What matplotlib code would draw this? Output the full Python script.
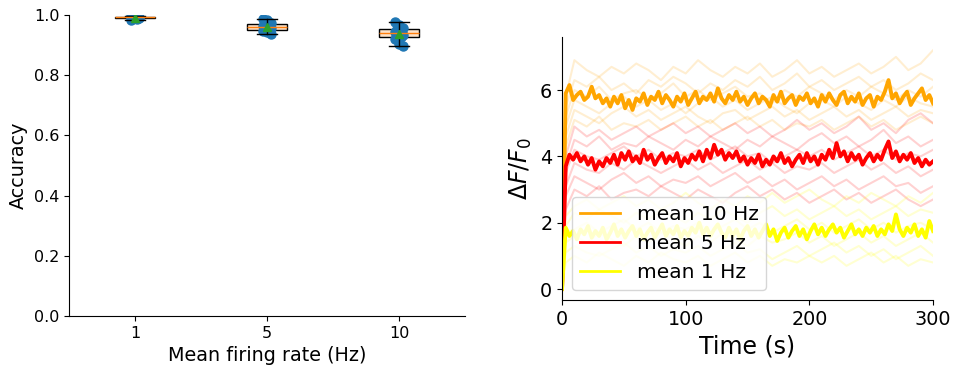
import matplotlib.pyplot as plt
import numpy as np

# accuracy per mean firing rate (left panel)
rates = ['1', '5', '10']
acc_1hz = [0.996, 0.995, 0.994, 0.993, 0.993, 0.992, 0.991, 0.990, 0.989, 0.986, 0.984]
acc_5hz = [0.988, 0.982, 0.975, 0.970, 0.966, 0.962, 0.960, 0.958, 0.955, 0.950, 0.947, 0.942, 0.937]
acc_10hz = [0.977, 0.968, 0.958, 0.955, 0.948, 0.942, 0.939, 0.935, 0.930, 0.927, 0.920, 0.905, 0.896]

# mean dF/F traces, one value every 3 s (right panel)
t_mean = list(range(0, 301, 3))
mean_10hz = [0.0, 5.9, 6.15, 5.7, 5.85, 5.95, 5.7, 5.8, 6.1, 5.75, 5.85, 5.6, 5.75, 5.5, 5.8, 5.6, 5.85,
             5.45, 5.7, 5.4, 5.75, 5.65, 5.9, 5.55, 5.8, 5.7, 5.95, 5.6, 5.85, 5.7, 5.5, 5.8, 5.65, 5.9,
             5.55, 5.75, 5.95, 5.6, 5.8, 5.7, 5.9, 5.65, 6.05, 5.75, 5.6, 5.85, 5.7, 5.95, 5.65, 5.8,
             5.55, 5.75, 5.9, 5.6, 5.8, 5.7, 5.5, 5.85, 5.65, 5.95, 5.6, 5.75, 5.85, 5.55, 5.8, 5.7,
             5.9, 5.6, 5.75, 5.5, 5.85, 5.65, 5.9, 5.7, 5.55, 5.85, 5.95, 5.6, 5.8, 5.65, 5.9, 5.55,
             5.75, 5.85, 5.5, 5.8, 5.7, 5.95, 6.3, 5.75, 5.9, 5.6, 5.8, 5.95, 5.55, 5.75, 5.9, 6.05,
             5.7, 5.85, 5.6]
mean_5hz = [0.0, 3.7, 4.05, 3.9, 4.1, 3.85, 4.0, 3.75, 3.95, 3.6, 3.85, 3.7, 3.95, 3.8, 4.05, 3.75, 4.1,
            3.9, 4.15, 3.85, 4.0, 3.8, 4.2, 3.9, 4.05, 3.75, 3.95, 4.1, 3.8, 4.0, 3.85, 4.1, 3.7, 3.95,
            3.8, 4.05, 3.9, 4.15, 3.85, 4.2, 3.95, 4.35, 4.05, 4.2, 3.9, 4.1, 3.95, 4.15, 3.85, 4.0,
            3.75, 3.95, 3.8, 4.05, 3.7, 3.9, 3.75, 4.0, 3.85, 4.1, 3.8, 3.95, 3.7, 3.9, 4.05, 3.8,
            4.1, 3.85, 4.0, 3.75, 4.05, 3.9, 4.2, 3.95, 4.4, 4.0, 4.15, 3.85, 4.1, 3.9, 4.05, 3.75,
            3.95, 4.1, 3.85, 4.05, 3.9, 4.2, 4.45, 3.95, 4.15, 3.85, 4.05, 3.9, 4.1, 3.8, 3.95, 3.7,
            3.9, 3.75, 3.85]
mean_1hz = [0.0, 1.85, 1.6, 1.75, 1.5, 1.8, 1.65, 1.9, 1.55, 1.75, 1.6, 1.85, 1.5, 1.7, 1.95, 1.6, 1.8,
            1.55, 1.75, 1.9, 1.6, 1.8, 1.5, 1.7, 1.85, 1.55, 1.75, 1.95, 1.6, 1.8, 1.65, 1.9, 1.55,
            1.75, 1.6, 1.85, 1.7, 2.0, 1.65, 1.85, 1.6, 1.8, 1.95, 1.7, 1.55, 1.85, 1.6, 1.8, 1.5,
            1.75, 1.9, 1.6, 1.8, 1.55, 1.75, 1.95, 1.6, 1.8, 1.45, 1.7, 1.85, 1.55, 1.75, 1.9, 1.6,
            1.8, 1.5, 1.75, 1.95, 1.65, 1.85, 1.6, 1.8, 1.95, 1.7, 1.85, 1.55, 1.75, 1.95, 1.65, 1.8,
            1.6, 1.85, 1.7, 1.9, 1.6, 1.8, 1.65, 1.95, 1.75, 2.25, 1.8, 1.6, 1.85, 1.7, 1.95, 1.6,
            1.8, 1.55, 2.05, 1.75]

# single cell traces, coarse read-off (t = 0, 3, 10, 20, ..., 300)
t_cell = [0, 3] + list(range(10, 301, 10))
cells_10hz = [
    [0, 5.8, 6.9, 6.6, 6.4, 6.7, 6.5, 6.8, 6.6, 6.3, 6.7, 6.5, 6.9, 6.6, 6.4, 6.7, 6.5, 6.8, 6.4, 6.6, 6.9, 6.5, 6.7, 6.4, 6.6, 6.8, 6.5, 6.7, 7.0, 6.6, 6.8, 7.2],
    [0, 5.5, 6.3, 6.1, 6.4, 6.0, 6.2, 5.9, 6.3, 6.1, 6.4, 6.2, 5.9, 6.2, 6.0, 6.3, 6.1, 6.4, 6.0, 6.2, 6.5, 6.1, 6.3, 6.0, 6.2, 6.4, 6.1, 6.3, 6.0, 6.2, 6.5, 6.3],
    [0, 5.2, 6.0, 5.8, 6.1, 5.7, 5.9, 6.0, 5.7, 5.9, 6.2, 5.8, 6.0, 5.7, 5.9, 6.1, 5.8, 5.9, 5.6, 6.0, 5.8, 6.1, 5.9, 5.7, 6.0, 5.8, 6.1, 5.9, 5.7, 6.0, 5.8, 6.1],
    [0, 4.9, 5.7, 5.5, 5.3, 5.6, 5.8, 5.5, 5.7, 5.4, 5.6, 5.3, 5.6, 5.8, 5.5, 5.7, 5.4, 5.6, 5.8, 5.5, 5.3, 5.6, 5.7, 5.5, 5.8, 5.6, 5.4, 5.7, 5.5, 5.8, 5.6, 5.5],
    [0, 4.6, 5.4, 5.2, 5.0, 5.3, 5.5, 5.2, 5.4, 5.1, 5.3, 5.5, 5.2, 5.0, 5.3, 5.4, 5.1, 5.3, 5.5, 5.2, 5.4, 5.1, 5.3, 5.5, 5.2, 5.4, 5.1, 5.3, 5.5, 5.2, 5.4, 5.3],
    [0, 4.3, 5.1, 4.9, 5.2, 4.8, 5.0, 4.9, 5.1, 4.8, 5.0, 5.2, 4.9, 5.1, 4.8, 5.0, 5.2, 4.9, 5.1, 4.8, 5.0, 4.9, 5.1, 4.8, 5.0, 5.2, 4.9, 5.1, 4.8, 5.0, 5.2, 5.0],
]
cells_5hz = [
    [0, 4.0, 4.9, 4.6, 4.8, 4.5, 4.7, 4.9, 4.6, 4.8, 5.0, 4.7, 4.9, 4.6, 4.8, 5.0, 4.7, 4.9, 4.6, 4.8, 5.1, 4.8, 5.0, 4.7, 4.9, 5.2, 4.8, 5.0, 4.7, 5.1, 5.3, 5.0],
    [0, 3.7, 4.5, 4.3, 4.6, 4.2, 4.4, 4.3, 4.6, 4.4, 4.2, 4.5, 4.3, 4.6, 4.4, 4.2, 4.5, 4.3, 4.6, 4.4, 4.2, 4.5, 4.7, 4.4, 4.6, 4.3, 4.5, 4.8, 4.4, 4.6, 4.3, 4.5],
    [0, 3.5, 4.2, 4.0, 3.9, 4.1, 4.3, 4.0, 4.2, 3.9, 4.1, 4.0, 4.2, 3.9, 4.1, 4.3, 4.0, 4.1, 3.8, 4.0, 4.2, 4.0, 4.2, 3.9, 4.1, 4.3, 4.0, 4.2, 3.9, 4.1, 4.0, 4.2],
    [0, 3.1, 3.8, 3.6, 3.5, 3.8, 3.6, 3.9, 3.7, 3.5, 3.7, 3.9, 3.6, 3.8, 3.5, 3.7, 3.9, 3.6, 3.8, 3.5, 3.7, 3.6, 3.8, 3.5, 3.7, 3.9, 3.6, 3.8, 3.5, 3.7, 3.4, 3.6],
    [0, 2.8, 3.4, 3.2, 3.0, 3.3, 3.5, 3.2, 3.4, 3.1, 3.3, 3.2, 3.4, 3.1, 3.3, 3.5, 3.2, 3.4, 3.1, 3.3, 3.0, 3.2, 3.4, 3.1, 3.3, 3.0, 3.2, 3.4, 3.1, 3.2, 2.9, 3.1],
    [0, 2.4, 3.0, 2.8, 3.1, 2.7, 2.9, 3.0, 2.8, 3.1, 2.9, 2.7, 3.0, 2.8, 2.6, 2.9, 3.1, 2.8, 3.0, 2.7, 2.9, 2.6, 2.8, 3.0, 2.7, 2.9, 2.6, 2.8, 3.0, 2.7, 2.5, 2.7],
]
cells_1hz = [
    [0, 2.2, 2.5, 2.7, 2.4, 2.6, 2.8, 2.5, 2.7, 2.4, 2.6, 2.9, 2.6, 2.4, 2.7, 2.5, 2.8, 2.6, 2.9, 2.6, 2.8, 3.0, 2.7, 2.5, 2.8, 2.6, 2.9, 2.7, 2.5, 2.8, 2.6, 2.9],
    [0, 1.9, 2.3, 2.1, 2.4, 2.2, 2.0, 2.3, 2.1, 2.4, 2.2, 2.0, 2.3, 2.1, 2.4, 2.2, 2.0, 2.3, 2.5, 2.2, 2.4, 2.1, 2.3, 2.5, 2.2, 2.4, 2.1, 2.3, 2.5, 2.2, 2.4, 2.3],
    [0, 1.7, 1.8, 2.0, 1.7, 1.9, 2.1, 1.8, 2.0, 1.7, 1.9, 1.8, 2.0, 1.7, 1.9, 2.1, 1.8, 2.0, 1.7, 1.9, 2.1, 1.8, 2.0, 1.7, 1.9, 2.1, 1.8, 2.0, 1.7, 1.9, 2.0, 1.8],
    [0, 1.4, 1.6, 1.4, 1.7, 1.5, 1.3, 1.6, 1.4, 1.7, 1.5, 1.3, 1.6, 1.4, 1.7, 1.5, 1.3, 1.6, 1.4, 1.5, 1.7, 1.4, 1.6, 1.3, 1.5, 1.7, 1.4, 1.6, 1.3, 1.5, 1.7, 1.4],
    [0, 1.1, 1.3, 1.1, 1.0, 1.2, 1.4, 1.1, 1.3, 1.0, 1.2, 1.1, 1.3, 1.0, 1.2, 1.4, 1.1, 1.2, 0.9, 1.1, 1.3, 1.0, 1.2, 1.4, 1.1, 1.3, 1.0, 1.2, 0.9, 1.1, 1.3, 1.0],
    [0, 0.8, 1.0, 0.8, 1.1, 0.9, 0.7, 1.0, 0.8, 1.1, 0.9, 0.8, 1.0, 0.7, 0.9, 1.1, 0.8, 1.0, 0.7, 0.9, 0.8, 1.0, 0.8, 1.0, 0.7, 0.9, 1.1, 0.8, 1.0, 0.7, 0.9, 0.8],
]

fig = plt.figure(figsize=(9.55, 3.68), dpi=100)
ax1 = fig.add_axes([0.0723, 0.1413, 0.4147, 0.818])
ax2 = fig.add_axes([0.5885, 0.1848, 0.3885, 0.7147])

# left: box plots with the single points
acc = [acc_1hz, acc_5hz, acc_10hz]
jitter = [-0.03, 0.0, 0.03, -0.015, 0.015]
for i, vals in enumerate(acc):
    xs = [i + jitter[k % len(jitter)] for k in range(len(vals))]
    ax1.plot(xs, vals, 'o', color='C0', ms=6.5, zorder=3)
ax1.boxplot(acc, positions=[0, 1, 2], widths=0.3, showmeans=True, patch_artist=True,
            boxprops=dict(facecolor='#fde2c8', edgecolor='black', zorder=2),
            whiskerprops=dict(zorder=4), capprops=dict(zorder=4),
            medianprops=dict(color='C1', zorder=4),
            meanprops=dict(zorder=5), showfliers=False)
ax1.set_xlim(-0.5, 2.5)
ax1.set_ylim(0, 1)
ax1.set_xticks([0, 1, 2])
ax1.set_xticklabels(rates)
ax1.tick_params(labelsize=11.5)
ax1.set_xlabel('Mean firing rate (Hz)', fontsize=13.8)
ax1.set_ylabel('Accuracy', fontsize=13.8)
ax1.spines['top'].set_visible(False)
ax1.spines['right'].set_visible(False)

# right: calcium traces
for cells, c in [(cells_10hz, 'orange'), (cells_5hz, 'red'), (cells_1hz, 'yellow')]:
    for tr in cells:
        ax2.plot(t_cell, tr, color=c, alpha=0.18, lw=1.5)
ax2.plot(t_mean, mean_10hz, color='orange', lw=2.8, label='mean 10 Hz')
ax2.plot(t_mean, mean_5hz, color='red', lw=2.8, label='mean 5 Hz')
ax2.plot(t_mean, mean_1hz, color='yellow', lw=2.8, label='mean 1 Hz')
ax2.set_xlim(0, 300)
ax2.set_ylim(-0.33, 7.6)
ax2.set_xticks([0, 100, 200, 300])
ax2.set_yticks([0, 2, 4, 6])
ax2.tick_params(labelsize=13.8)
ax2.set_xlabel('Time (s)', fontsize=17)
ax2.set_ylabel(r'$\Delta F/F_0$', fontsize=17)
ax2.spines['top'].set_visible(False)
ax2.spines['right'].set_visible(False)
leg = ax2.legend(loc='lower left', fontsize=14.5)
for h in leg.get_lines():
    h.set_linewidth(2)

fig.savefig('out.png', dpi=100)
